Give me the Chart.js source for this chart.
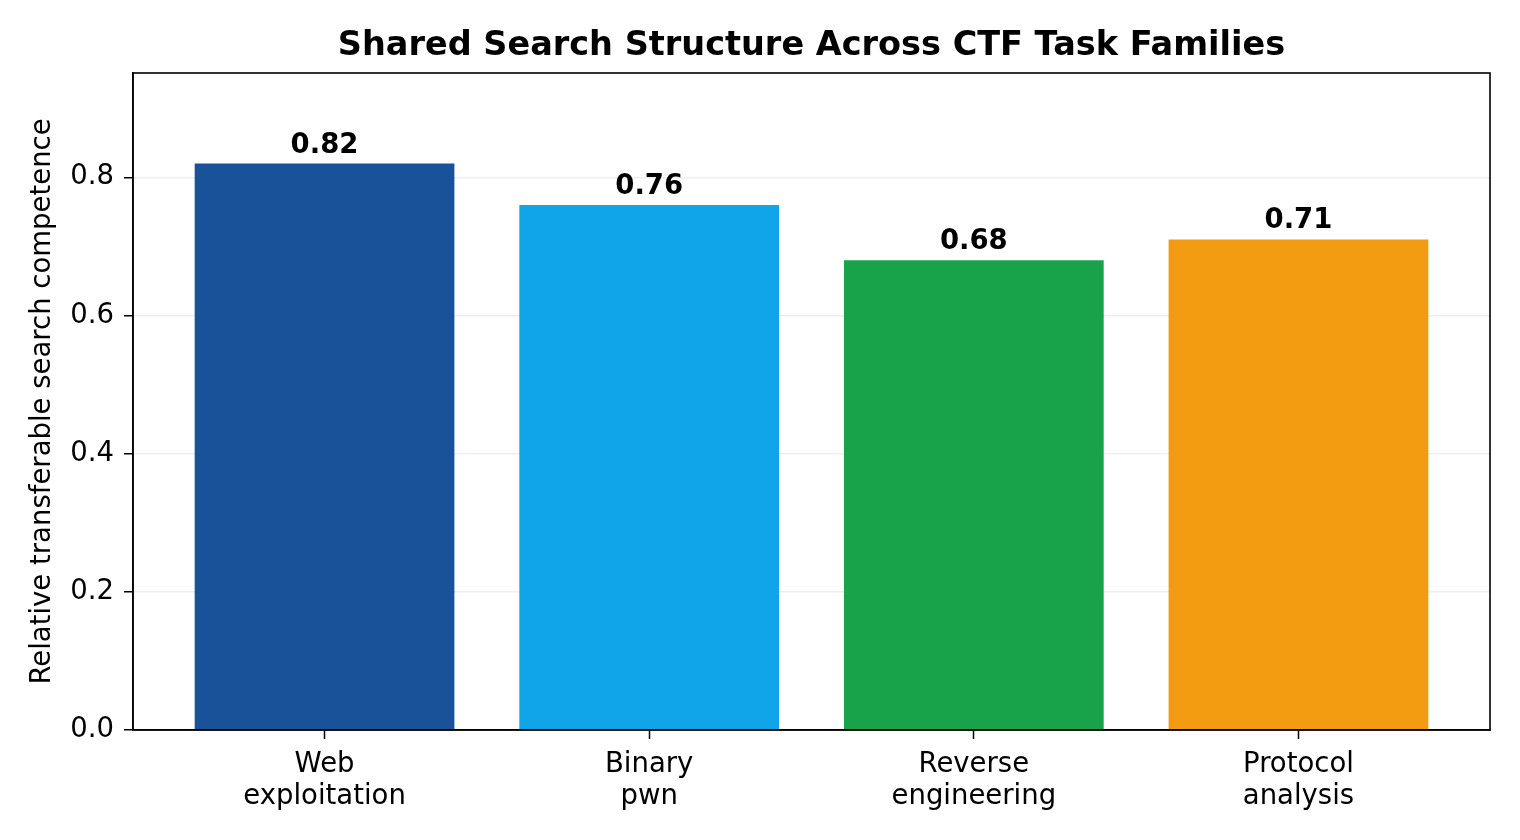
<!DOCTYPE html>
<html>
<head>
<meta charset="utf-8">
<script src="https://cdn.jsdelivr.net/npm/chart.js@4.4.1/dist/chart.umd.min.js"></script>
<style>
  html, body { margin: 0; padding: 0; background: #fff; }
  #wrap { width: 1520px; height: 840px; }
</style>
</head>
<body>
<div id="wrap"><canvas id="barChart" width="1520" height="840"></canvas></div>
<script>
// Chart data
const chartTitle = 'Shared Search Structure Across CTF Task Families';
const families = [['Web', 'exploitation'], ['Binary', 'pwn'], ['Reverse', 'engineering'], ['Protocol', 'analysis']];
const competence = [0.82, 0.76, 0.68, 0.71];
const barColors = ['#1a5299', '#10a5e9', '#18a34a', '#f39c12'];
const yTicks = [0, 0.2, 0.4, 0.6, 0.8];

Chart.defaults.font.family = "'DejaVu Sans', sans-serif";
Chart.defaults.color = '#000';

// value labels above bars, title centred on the plot area, box around it
const decorations = {
    id: 'decorations',
    afterDatasetsDraw(chart) {
        const ctx = chart.ctx;
        const meta = chart.getDatasetMeta(0);
        ctx.save();
        ctx.font = "bold 27.5px 'DejaVu Sans'";
        ctx.fillStyle = '#000';
        ctx.textAlign = 'center';
        ctx.textBaseline = 'alphabetic';
        meta.data.forEach((bar, i) => {
            ctx.fillText(competence[i].toFixed(2), bar.x, bar.y - 11);
        });
        ctx.restore();
    },
    afterDraw(chart) {
        const a = chart.chartArea;
        const ctx = chart.ctx;
        ctx.save();
        ctx.strokeStyle = '#000';
        ctx.lineWidth = 1.6;
        ctx.strokeRect(a.left, a.top, a.right - a.left, a.bottom - a.top);
        ctx.font = "bold 33.5px 'DejaVu Sans'";
        ctx.fillStyle = '#000';
        ctx.textAlign = 'center';
        ctx.textBaseline = 'middle';
        ctx.fillText(chartTitle, (a.left + a.right) / 2, 46);
        ctx.restore();
    }
};

const ctx = document.getElementById('barChart').getContext('2d');
const chart = new Chart(ctx, {
    type: 'bar',
    data: {
        datasets: [{
            data: competence.map((v, i) => ({ x: i, y: v })),
            backgroundColor: barColors,
            borderWidth: 0,
            barPercentage: 0.8,
            categoryPercentage: 1.0
        }]
    },
    options: {
        responsive: false,
        animation: false,
        layout: { padding: { left: 0, right: 30, top: 73, bottom: 0 } },
        plugins: {
            legend: { display: false },
            tooltip: { enabled: false },
            title: { display: false }
        },
        scales: {
            x: {
                type: 'linear',
                min: -0.59,
                max: 3.59,
                offset: false,
                afterBuildTicks: s => { s.ticks = families.map((f, i) => ({ value: i })); },
                afterFit: s => { s.height = 110; },
                grid: {
                    offset: false,
                    drawOnChartArea: false,
                    tickLength: 9,
                    tickColor: '#000',
                    tickWidth: 1.5
                },
                border: { color: '#000', width: 1.6 },
                ticks: {
                    autoSkip: false,
                    maxRotation: 0,
                    padding: 10,
                    font: { size: 27.5, lineHeight: 1.17 },
                    callback: v => families[v]
                }
            },
            y: {
                min: 0,
                max: 0.951,
                z: 1,
                afterBuildTicks: s => { s.ticks = yTicks.map(v => ({ value: v })); },
                afterFit: s => { s.width = 133; },
                grid: {
                    color: 'rgba(200,200,200,0.3)',
                    lineWidth: 1.5,
                    tickLength: 9,
                    tickColor: '#000',
                    tickWidth: 1.5
                },
                border: { color: '#000', width: 1.6 },
                ticks: {
                    padding: 10,
                    font: { size: 27.5 },
                    callback: v => v.toFixed(1)
                },
                title: {
                    display: true,
                    text: 'Relative transferable search competence',
                    color: '#000',
                    font: { size: 27.5 },
                    padding: { top: 26, bottom: 0 }
                }
            }
        }
    },
    plugins: [decorations]
});
</script>
</body>
</html>
